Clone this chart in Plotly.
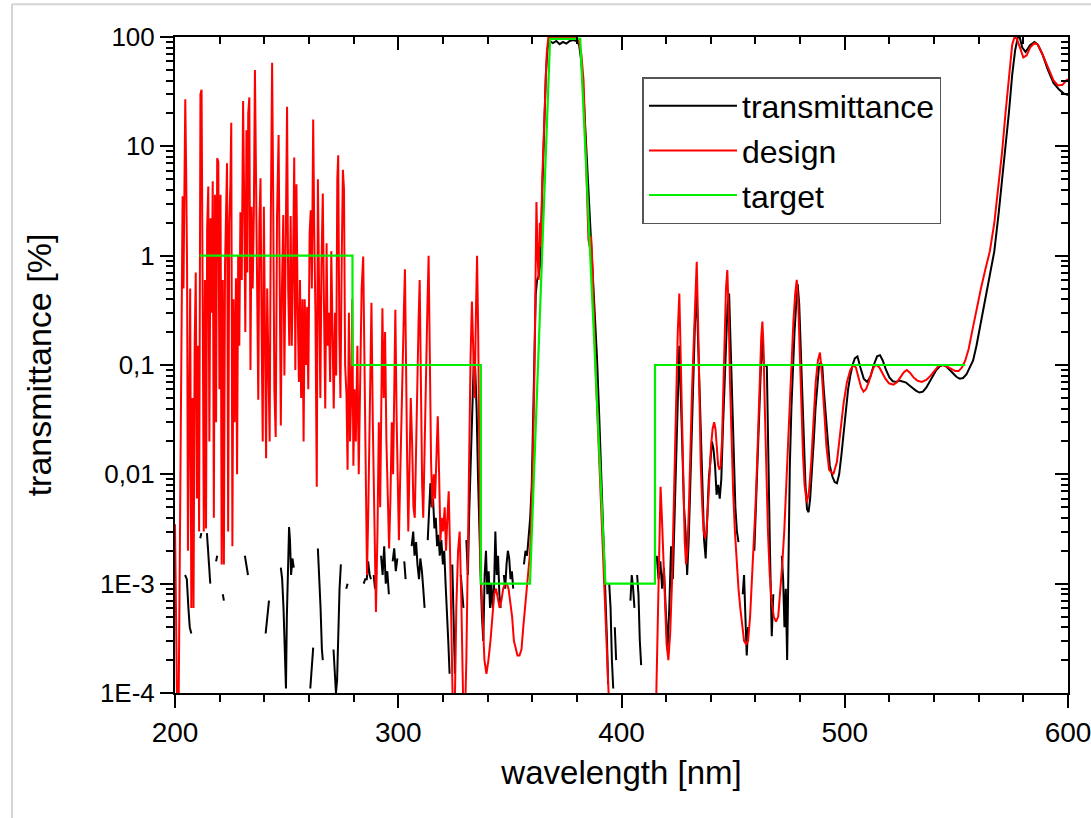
import plotly.graph_objects as go

# ---------------- data ----------------
# design curve, [wavelength nm, transmittance %]
design_200_290 = [
    [200.0, 0.0035], [200.5, 0.0002], [201.0, 0.00006], [201.6, 0.00006], [202.1, 0.0008], [202.6, 0.02],
    [203.0, 0.3], [203.4, 3.5], [203.8, 0.5], [204.2, 7], [204.6, 27], [205.0, 6], [205.4, 0.8],
    [205.8, 0.002], [206.3, 0.05], [206.8, 0.5], [207.3, 0.0006], [207.8, 0.05], [208.3, 0.0006],
    [208.8, 0.15], [209.3, 0.7], [209.8, 0.006], [210.3, 0.15], [210.8, 0.003], [211.4, 30], [211.9, 33],
    [212.4, 0.4], [212.9, 0.003], [213.4, 0.6], [213.9, 0.0032], [214.4, 1.8], [214.9, 4.3], [215.4, 0.02],
    [215.9, 2.2], [216.4, 0.3], [216.9, 4.8], [217.4, 0.004], [217.9, 3.6], [218.4, 0.03], [218.9, 7.8],
    [219.4, 7.2], [219.9, 0.06], [220.4, 3.6], [220.9, 0.0015], [221.4, 0.6], [221.9, 0.0015], [222.4, 0.8],
    [222.9, 4], [223.3, 7], [223.8, 0.003], [224.3, 2], [224.8, 4.5], [225.2, 16.4], [225.7, 0.0022],
    [226.2, 0.4], [226.7, 0.03], [227.3, 0.62], [227.8, 0.01], [228.3, 1.0], [228.8, 0.15], [229.3, 2.5],
    [229.9, 0.6], [230.5, 26], [231.0, 3], [231.5, 0.2], [232.0, 14], [232.4, 0.7], [232.8, 20], [233.3, 28],
    [233.8, 0.09], [234.3, 2.8], [234.8, 0.5], [235.3, 2.3], [235.8, 50], [236.3, 2.7], [236.8, 0.3],
    [237.3, 0.048], [237.8, 2], [238.3, 5.1], [238.8, 0.2], [239.3, 0.02], [239.8, 2.8], [240.3, 0.3],
    [240.8, 0.014], [241.3, 0.5], [241.8, 0.1], [242.4, 0.02], [242.9, 2], [243.5, 58], [244.0, 3],
    [244.5, 0.06], [245.1, 0.022], [245.7, 2.3], [246.4, 12.7], [246.9, 0.3], [247.4, 0.028], [247.9, 0.5],
    [248.5, 2.35], [249.0, 0.08], [249.6, 2.2], [250.2, 23], [250.7, 0.5], [251.2, 0.15], [251.8, 2.3],
    [252.3, 0.15], [252.8, 0.6], [253.4, 7.9], [253.9, 0.09], [254.4, 4.5], [254.9, 0.4], [255.5, 0.07],
    [256.0, 0.6], [256.5, 0.05], [257.1, 0.4], [257.6, 0.02], [258.1, 0.4], [258.7, 0.1], [259.2, 0.34],
    [259.7, 0.06], [260.3, 1.6], [260.8, 2.6], [261.3, 0.5], [261.9, 17.6], [262.4, 1.5], [262.9, 0.3],
    [263.5, 0.0077], [264.0, 5], [264.5, 0.6], [265.1, 0.05], [265.6, 0.8], [266.2, 3.7], [266.7, 0.4],
    [267.3, 0.04], [267.9, 1.3], [268.4, 0.15], [268.9, 0.3], [269.5, 0.07], [270.0, 1.1], [270.6, 0.15],
    [271.1, 0.04], [271.7, 0.3], [272.2, 0.08], [272.7, 5], [273.1, 8.3], [273.6, 0.2], [274.1, 0.05],
    [274.7, 1], [275.2, 6.1], [275.7, 4], [276.2, 0.1], [276.8, 0.054], [277.3, 0.011], [277.9, 0.3],
    [278.4, 0.02], [278.9, 0.05], [279.4, 0.4], [279.9, 0.012], [280.4, 0.06], [281.0, 0.02], [281.7, 0.15],
    [282.3, 0.01], [282.9, 0.08], [283.6, 0.5], [284.3, 0.98], [284.9, 0.1], [285.5, 0.004], [286.0, 0.0012],
    [286.6, 0.005], [287.3, 0.06], [288.0, 0.37], [288.6, 0.03], [289.3, 0.004], [290.0, 0.00055],
]
design_290_360 = [
    [290.7, 0.003], [291.3, 0.03], [291.9, 0.005], [292.4, 0.08], [292.9, 0.33], [293.5, 0.05], [294.1, 0.2],
    [294.7, 0.02], [295.3, 0.006], [295.9, 0.0021], [296.5, 0.006], [297.1, 0.03], [297.7, 0.01],
    [298.2, 0.06], [298.7, 0.32], [299.3, 0.03], [299.8, 0.01], [300.3, 0.0025], [300.9, 0.01], [301.5, 0.05],
    [302.0, 0.12], [302.5, 0.3], [303.0, 0.75], [303.5, 0.06], [304.0, 0.013], [304.5, 0.003], [305.0, 0.01],
    [305.6, 0.05], [306.2, 0.02], [306.8, 0.005], [307.4, 0.004], [308.0, 0.02], [308.5, 0.1], [309.1, 0.25],
    [309.6, 0.6], [310.1, 0.05], [310.7, 0.008], [311.2, 0.004], [311.8, 0.02], [312.4, 0.08], [313.0, 0.3],
    [313.6, 1.0], [314.1, 0.1], [314.7, 0.013], [315.3, 0.005], [315.9, 0.01], [316.5, 0.006], [317.1, 0.015],
    [317.7, 0.034], [318.3, 0.01], [318.9, 0.0025], [319.5, 0.004], [320.1, 0.003], [320.8, 0.005],
    [321.4, 0.002], [322.0, 0.004], [322.6, 0.007], [323.2, 0.002], [323.8, 0.0005], [324.4, 0.00008],
    [325.2, 0.00005], [326.0, 0.0006], [326.8, 0.002], [327.5, 0.003], [328.2, 0.0008], [329.0, 0.0001],
    [329.8, 0.00005], [330.5, 0.0002], [331.2, 0.002], [331.8, 0.02], [332.4, 0.12], [333.0, 0.38],
    [333.6, 0.1], [334.2, 0.05], [334.8, 0.3], [335.3, 1.0], [335.8, 0.2], [336.3, 0.015], [336.8, 0.0015],
    [337.8, 0.0005], [338.6, 0.0002], [339.5, 0.00015], [340.4, 0.0002], [341.3, 0.0003], [342.2, 0.0005],
    [343.0, 0.0008], [343.8, 0.0009], [344.6, 0.0007], [345.4, 0.0006], [346.2, 0.0007], [347.0, 0.0009],
    [347.8, 0.001], [348.6, 0.001], [349.4, 0.0009], [350.2, 0.0007], [351.0, 0.0005], [351.8, 0.0003],
    [352.6, 0.00025], [353.4, 0.00022], [354.3, 0.00022], [355.2, 0.00025], [356.0, 0.0004], [356.8, 0.0006],
    [357.6, 0.0009], [358.4, 0.0014], [359.1, 0.002], [359.7, 0.005],
]
design_360_420 = [
    [360.3, 0.013], [360.9, 0.06], [361.4, 0.4], [361.9, 3.1], [362.4, 1.0], [362.9, 0.6], [363.4, 2],
    [363.9, 1.2], [364.5, 5], [365.1, 10], [365.8, 30], [366.5, 70], [367.2, 98], [368.5, 99], [370.0, 98],
    [372.0, 99], [374.0, 98], [376.0, 99], [378.0, 99], [380.0, 98], [381.0, 90], [382.0, 70], [383.0, 40],
    [383.8, 12], [384.6, 3], [385.2, 1.4], [385.8, 1.2], [386.4, 1.5], [387.0, 0.8], [387.8, 0.2],
    [388.6, 0.07], [389.5, 0.025], [390.4, 0.008], [391.3, 0.003], [392.2, 0.0009], [393.1, 0.0003],
    [394.0, 0.00011], [395.0, 0.00004], [405.0, 0.00001], [415.0, 0.00003], [415.6, 0.0001],
    [416.2, 0.0005], [416.9, 0.003], [417.5, 0.0077], [418.1, 0.004], [418.8, 0.0015], [419.5, 0.0006],
]
design_420_505 = [
    [420.2, 0.00028], [421.0, 0.0002], [421.8, 0.00035], [422.6, 0.001], [423.3, 0.004], [424.0, 0.02],
    [424.6, 0.08], [425.2, 0.2], [425.9, 0.45], [426.5, 0.12], [427.1, 0.02], [427.7, 0.006], [428.3, 0.0025],
    [428.9, 0.0015], [429.5, 0.002], [430.2, 0.005], [430.9, 0.02], [431.6, 0.06], [432.3, 0.15], [433.0, 0.4],
    [433.7, 0.88], [434.3, 0.25], [434.9, 0.05], [435.5, 0.012], [436.2, 0.005], [436.8, 0.003],
    [437.4, 0.0026], [438.0, 0.003], [438.7, 0.005], [439.4, 0.01], [440.1, 0.018], [440.8, 0.026],
    [441.5, 0.03], [442.1, 0.026], [442.7, 0.017], [443.3, 0.012], [443.9, 0.011], [444.4, 0.012],
    [445.0, 0.02], [445.6, 0.06], [446.2, 0.2], [446.8, 0.5], [447.4, 0.74], [448.0, 0.3], [448.6, 0.07],
    [449.3, 0.02], [450.0, 0.007], [450.8, 0.003], [451.6, 0.0015], [452.4, 0.0009], [453.2, 0.0006],
    [454.0, 0.0004], [454.9, 0.0003], [455.8, 0.00028], [456.7, 0.0003], [457.6, 0.0005], [458.4, 0.001],
    [459.2, 0.002], [460.0, 0.005], [460.7, 0.012], [461.4, 0.035], [462.0, 0.09], [462.6, 0.18],
    [463.1, 0.25], [463.6, 0.15], [464.2, 0.04], [464.9, 0.01], [465.6, 0.003], [466.4, 0.0012],
    [467.2, 0.0007], [468.2, 0.0005], [469.2, 0.00045], [470.2, 0.0005], [471.1, 0.0008], [472.0, 0.0015],
    [472.9, 0.003], [473.8, 0.008], [474.6, 0.02], [475.4, 0.05], [476.2, 0.12], [477.0, 0.25],
    [477.8, 0.45], [478.5, 0.6], [479.2, 0.35], [479.9, 0.12], [480.6, 0.04], [481.3, 0.015], [482.0, 0.008],
    [483.0, 0.0055], [484.0, 0.007], [485.0, 0.013], [486.0, 0.03], [487.0, 0.07], [488.0, 0.11],
    [488.9, 0.13], [489.8, 0.08], [490.8, 0.035], [491.8, 0.018], [493.0, 0.011], [494.9, 0.01],
    [496.5, 0.013], [498.0, 0.025], [499.5, 0.045], [501.0, 0.07], [502.5, 0.09], [503.9, 0.1],
]
design_505_600 = [
    [505.0, 0.095], [506.3, 0.075], [507.4, 0.062], [508.4, 0.057], [509.5, 0.06], [510.8, 0.07],
    [512.0, 0.085], [513.2, 0.097], [514.3, 0.1], [515.5, 0.095], [516.8, 0.085], [518.2, 0.075],
    [519.8, 0.068], [521.8, 0.066], [523.5, 0.07], [525.0, 0.078], [526.5, 0.086], [527.8, 0.09],
    [529.2, 0.085], [530.8, 0.077], [532.5, 0.072], [534.5, 0.07], [536.5, 0.073], [538.5, 0.08],
    [540.5, 0.09], [542.0, 0.098], [543.5, 0.1], [545.0, 0.099], [546.5, 0.095], [548.0, 0.091],
    [549.5, 0.088], [551.0, 0.088], [552.5, 0.095], [554.0, 0.11], [555.5, 0.14], [557.0, 0.2],
    [559.0, 0.32], [561.0, 0.5], [563.0, 0.75], [565.0, 1.1], [567.0, 2], [569.0, 4.5], [570.5, 9],
    [572.0, 20], [573.5, 45], [575.0, 85], [576.0, 99], [577.0, 97], [578.5, 80], [580.0, 65], [581.5, 68],
    [583.0, 80], [585.0, 88], [586.5, 85], [588.5, 70], [591.0, 52], [593.5, 40], [595.5, 36],
    [597.5, 36.5], [599.5, 40.6], [600.0, 41],
]

# measured transmittance (None = no valid value, line broken)
trans_200_290 = [
    [204.5, 0.0012], [205.3, 0.0011], [206.0, 0.0006], [206.6, 0.0004], [207.3, 0.00035], [209.0, None],
    [211.3, 0.0026], [211.8, 0.0029], [213.0, None],
    [214.3, 0.0029], [214.8, 0.0019], [215.3, 0.0013], [215.8, 0.0010], [217.0, None],
    [218.4, 0.0016], [218.9, 0.0018], [220.0, None],
    [221.4, 0.0008], [221.9, 0.0007], [225.0, None],
    [231.3, 0.0018], [232.0, 0.0015], [232.7, 0.0012], [236.0, None],
    [240.6, 0.00035], [241.3, 0.0005], [242.1, 0.0007], [245.0, None],
    [247.4, 0.0014], [248.0, 0.0011], [248.6, 0.0006], [249.3, 0.0002], [249.7, 0.00011], [250.1, 0.0005],
    [250.6, 0.0018], [251.1, 0.0033], [251.5, 0.0025], [252.0, 0.0012], [252.6, 0.0017], [253.2, 0.0014],
    [256.0, None],
    [260.6, 0.00011], [261.3, 0.0002], [261.9, 0.00026], [263.0, None],
    [264.0, 0.0021], [264.6, 0.0012], [265.2, 0.0006], [265.8, 0.00025], [266.2, 0.0002], [268.0, None],
    [271.0, 0.00025], [271.6, 0.00015], [272.1, 0.0001], [272.6, 0.00013], [273.2, 0.0004], [273.7, 0.0009],
    [274.3, 0.0015], [275.5, None],
    [276.7, 0.0009], [277.3, 0.0010], [280.0, None],
    [284.5, 0.0010], [285.2, 0.0011], [285.9, 0.0011], [286.5, 0.0016], [287.2, 0.0012], [287.8, 0.0011],
    [288.4, None],
]
trans_290_360 = [
    [289.0, 0.0012], [289.6, 0.0009], [290.2, 0.0013], [291.2, None],
    [292.3, 0.0018], [293.0, 0.0012], [293.7, 0.0022], [294.4, 0.0010], [295.1, 0.0013], [295.8, 0.0008],
    [296.6, None],
    [297.5, 0.0016], [298.2, 0.0021], [298.9, 0.0013], [299.6, 0.0017], [301.0, None],
    [302.7, 0.0016], [303.3, 0.0011], [304.5, None],
    [306.0, 0.0022], [306.7, 0.0030], [307.3, 0.0018], [308.0, 0.0024], [308.6, 0.0015], [309.3, 0.0011],
    [309.9, 0.0017], [310.6, 0.0013], [311.2, 0.0009], [311.8, 0.0006], [312.5, None],
    [313.2, 0.0025], [313.8, 0.0045], [314.4, 0.0083], [315.0, 0.005], [315.6, 0.006], [316.2, 0.0032],
    [316.8, 0.004], [317.4, 0.0022], [318.0, 0.0028], [318.6, 0.0018], [319.3, 0.0025], [320.0, 0.0015],
    [320.6, 0.002], [321.2, 0.001], [321.8, 0.0006], [322.4, 0.0003], [323.0, 0.00015], [323.6, None],
    [324.2, 0.0015], [324.8, 0.0005], [325.4, 0.00015], [326.5, None],
    [328.0, 0.0012], [328.6, 0.0008], [329.2, 0.0006], [329.9, None],
    [330.5, 0.0025], [331.2, 0.0012], [331.8, 0.0045], [332.5, 0.012], [333.2, 0.04], [333.9, 0.12],
    [334.5, 0.09], [335.1, 0.04], [335.7, 0.01], [336.3, 0.0025], [336.9, 0.0012], [337.5, 0.0005],
    [338.1, 0.0003], [338.7, 0.0012], [339.3, 0.002], [339.9, 0.0008], [340.5, 0.0013], [341.1, 0.0006],
    [341.7, 0.001], [342.3, 0.0006], [342.9, 0.0009], [343.5, 0.003], [344.1, 0.0012], [344.7, 0.0018],
    [345.3, 0.0008], [345.9, 0.0006], [346.6, None],
    [347.3, 0.0012], [347.9, 0.0009], [348.5, 0.0015], [349.1, 0.002], [349.7, 0.0017], [350.3, 0.0011],
    [350.9, 0.0013], [351.5, 0.0009], [353.0, None],
]
trans_355_415 = [
    [356.3, 0.0015], [357.0, 0.002], [357.7, 0.0018], [358.4, 0.0025], [359.1, 0.004], [359.8, 0.008],
    [360.4, 0.04], [361.0, 0.2], [361.6, 0.45], [362.2, 0.6], [362.9, 0.65], [363.5, 0.8], [364.1, 2],
    [364.7, 5], [365.4, 18], [366.1, 45], [366.9, 80], [367.8, 92], [369.3, 88], [370.8, 92], [372.3, 86],
    [373.8, 90], [375.3, 87], [376.8, 92], [378.3, 94], [379.8, 92], [381.0, 85], [382.0, 60], [383.0, 30],
    [384.0, 12], [385.0, 6], [386.0, 2.5], [387.0, 1.0], [388.0, 0.4], [389.0, 0.12], [390.0, 0.035],
    [391.0, 0.01], [392.0, 0.003], [392.8, 0.0009], [393.5, 0.0003], [394.0, 0.00012], [394.2, None],
    [394.5, 0.001], [395.1, 0.0006], [395.7, 0.0002], [396.3, 0.00011], [396.6, None],
    [397.0, 0.0004], [397.6, 0.0002], [400.0, None],
    [404.0, 0.0007], [404.6, 0.0012], [405.2, 0.0009], [405.8, 0.0006], [406.4, None],
    [407.0, 0.0012], [407.6, 0.0008], [408.2, 0.0003], [408.8, 0.00018], [412.0, None],
]
trans_415_505 = [
    [415.8, 0.0018], [416.6, 0.0011], [417.4, 0.0016], [418.2, 0.0009], [419.0, 0.0014], [419.8, 0.0005],
    [420.6, 0.00025], [421.4, 0.0006], [422.2, 0.0022], [423.0, 0.0011], [423.8, 0.004], [424.5, 0.015],
    [425.2, 0.06], [425.9, 0.15], [426.6, 0.05], [427.3, 0.012], [428.0, 0.005], [428.7, 0.003],
    [429.4, 0.0012], [430.1, 0.0025], [430.8, 0.008], [431.5, 0.03], [432.2, 0.09], [432.9, 0.24],
    [433.6, 0.5], [434.2, 0.2], [434.9, 0.06], [435.6, 0.015], [436.3, 0.005], [437.0, 0.0025],
    [437.7, 0.0017], [438.4, 0.004], [439.1, 0.009], [439.8, 0.013], [440.5, 0.02], [441.2, 0.017],
    [441.9, 0.012], [442.6, 0.0065], [443.3, 0.008], [444.0, 0.006], [444.7, 0.009], [445.4, 0.025],
    [446.1, 0.07], [446.8, 0.2], [447.5, 0.35], [448.2, 0.45], [448.9, 0.14], [449.6, 0.04], [450.3, 0.012],
    [451.0, 0.005], [451.7, 0.003], [452.4, 0.0024], [453.5, None],
    [454.3, 0.0008], [454.9, 0.0012], [455.5, 0.0005], [456.1, 0.00022], [456.7, 0.0004], [458.0, None],
    [459.5, 0.002], [460.2, 0.005], [460.9, 0.015], [461.6, 0.04], [462.3, 0.1], [463.0, 0.2], [463.7, 0.1],
    [464.4, 0.1], [465.1, 0.096], [465.8, 0.01], [466.5, 0.002], [467.3, 0.00033], [468.0, 0.0008],
    [470.0, None],
    [471.8, 0.0018], [472.4, 0.0011], [473.0, 0.0004], [473.6, 0.0009], [474.2, 0.0002], [474.8, 0.0015],
    [475.4, 0.012], [476.1, 0.04], [476.8, 0.1], [477.5, 0.2], [478.2, 0.35], [478.9, 0.55], [479.6, 0.36],
    [480.3, 0.15], [481.0, 0.05], [481.7, 0.018], [482.4, 0.008], [483.1, 0.0048], [483.8, 0.0045],
    [484.5, 0.006], [485.3, 0.01], [486.1, 0.02], [486.9, 0.04], [487.7, 0.07], [488.5, 0.1],
    [489.2, 0.105], [489.9, 0.1], [490.6, 0.06], [491.4, 0.035], [492.3, 0.02], [493.3, 0.012],
    [494.5, 0.0095], [495.5, 0.0085], [496.5, 0.0083], [497.5, 0.01], [498.5, 0.015], [499.5, 0.025],
    [500.5, 0.04], [501.5, 0.06], [502.5, 0.08], [503.5, 0.1], [504.5, 0.115],
]
trans_505_600 = [
    [505.7, 0.12], [507.0, 0.095], [508.5, 0.075], [510.0, 0.07], [511.5, 0.078], [513.0, 0.1],
    [514.5, 0.12], [515.8, 0.123], [517.0, 0.11], [518.5, 0.09], [520.0, 0.077], [521.5, 0.071],
    [523.0, 0.07], [524.5, 0.072], [526.0, 0.071], [527.5, 0.069], [529.0, 0.065], [530.5, 0.061],
    [532.0, 0.058], [533.5, 0.056], [535.0, 0.057], [536.5, 0.062], [538.0, 0.07], [539.5, 0.08],
    [541.0, 0.09], [542.5, 0.097], [544.0, 0.1], [545.5, 0.097], [547.0, 0.09], [548.5, 0.083],
    [550.0, 0.078], [551.5, 0.075], [553.0, 0.076], [554.5, 0.082], [556.0, 0.095], [557.5, 0.11],
    [559.0, 0.15], [561.0, 0.25], [563.0, 0.4], [565.0, 0.65], [567.0, 1.1], [569.0, 2.5], [570.5, 5],
    [572.0, 9], [573.5, 20], [575.0, 45], [576.3, 75], [577.5, 99], [578.3, 101], [579.5, 80], [581.0, 73],
    [583.0, 84], [585.0, 90], [586.5, 85], [588.5, 70], [591.0, 50], [593.5, 38], [596.0, 33],
    [598.0, 30.5], [600.0, 29.5],
]

# target (step profile)
target_nm = [211.0, 279.5, 279.5, 337.0, 337.0, 359.0, 368.0, 381.5, 392.8, 415.0, 415.0, 554.0]
target_T = [1, 1, 0.1, 0.1, 0.001, 0.001, 96, 96, 0.001, 0.001, 0.1, 0.1]

# axis ticks
x_major = [200, 300, 400, 500, 600]
y_tickvals = [1e-4, 1e-3, 1e-2, 1e-1, 1, 10, 100]
y_ticktext = ["1E-4", "1E-3", "0,01", "0,1", "1", "10", "100"]

# ---------------- build ----------------
design = design_200_290 + design_290_360 + design_360_420 + design_420_505 + design_505_600
trans = trans_200_290 + trans_290_360 + trans_355_415 + trans_415_505 + trans_505_600

FONT = "Liberation Sans, Arial, sans-serif"
XR = [199.999, 600.001]

fig = go.Figure()
fig.add_trace(go.Scatter(x=[p[0] for p in trans], y=[p[1] for p in trans], mode="lines",
                         name="transmittance", line=dict(color="black", width=2), connectgaps=False))
fig.add_trace(go.Scatter(x=[p[0] for p in design], y=[p[1] for p in design], mode="lines",
                         name="design", line=dict(color="#ff0000", width=2)))
fig.add_trace(go.Scatter(x=target_nm, y=target_T, mode="lines", name="target",
                         line=dict(color="#00ee00", width=2.2)))
# helper trace for mirrored (inward) ticks on top/right axes
fig.add_trace(go.Scatter(x=[400], y=[1], xaxis="x2", yaxis="y2", mode="markers",
                         marker=dict(opacity=0), showlegend=False, hoverinfo="skip"))

minor_y = [k * 10.0 ** e for e in range(-4, 2) for k in range(2, 10)]

fig.update_layout(
    width=1091, height=818,
    margin=dict(l=175, r=23, t=37, b=125, autoexpand=False),
    paper_bgcolor="white", plot_bgcolor="white",
    font=dict(family=FONT, color="black"),
    showlegend=True,
    legend=dict(x=0.5235, y=0.939, xanchor="left", yanchor="top",
                bordercolor="#555555", borderwidth=1.5, bgcolor="white",
                font=dict(size=32, family=FONT, color="black"),
                itemwidth=88, tracegroupgap=0),
    xaxis=dict(range=XR, tickmode="array", tickvals=x_major, ticklabeloverflow="allow", automargin=False,
               ticks="outside", ticklen=13, tickwidth=2, tickcolor="black",
               minor=dict(ticks="outside", ticklen=7, tickwidth=1.5, tickcolor="black", dtick=20, tick0=200),
               showline=True, linecolor="black", linewidth=2, showgrid=False, zeroline=False,
               tickfont=dict(size=28, family=FONT),
               title=dict(text="wavelength [nm]", font=dict(size=33, family=FONT), standoff=14)),
    yaxis=dict(type="log", range=[-4, 2], tickmode="array", tickvals=y_tickvals, ticktext=y_ticktext,
               ticks="outside", ticklen=13, tickwidth=2, tickcolor="black", ticklabeloverflow="allow",
               automargin=False,
               minor=dict(ticks="outside", ticklen=7, tickwidth=1.5, tickcolor="black",
                          tickmode="array", tickvals=minor_y),
               showline=True, linecolor="black", linewidth=2, showgrid=False, zeroline=False,
               tickfont=dict(size=26, family=FONT),
               title=dict(text="transmittance [%]", font=dict(size=34, family=FONT), standoff=38)),
    xaxis2=dict(overlaying="x", side="top", range=XR, tickmode="array", tickvals=x_major, automargin=False,
                ticks="inside", ticklen=13, tickwidth=2, tickcolor="black", showticklabels=False,
                minor=dict(ticks="inside", ticklen=7, tickwidth=1.5, tickcolor="black", dtick=20, tick0=200),
                showline=True, linecolor="black", linewidth=2, showgrid=False, zeroline=False),
    yaxis2=dict(overlaying="y", side="right", type="log", range=[-4, 2], tickmode="array", automargin=False,
                tickvals=y_tickvals, ticks="inside", ticklen=13, tickwidth=2, tickcolor="black",
                showticklabels=False,
                minor=dict(ticks="inside", ticklen=7, tickwidth=1.5, tickcolor="black",
                           tickmode="array", tickvals=minor_y),
                showline=True, linecolor="black", linewidth=2, showgrid=False, zeroline=False),
    shapes=[
        dict(type="line", xref="paper", yref="paper", x0=-0.1825, x1=-0.1825, y0=-0.2, y1=1.05,
             line=dict(color="#d4d4d4", width=2)),
        dict(type="line", xref="paper", yref="paper", x0=-0.1825, x1=1.05, y0=1.05, y1=1.05,
             line=dict(color="#d4d4d4", width=2)),
    ],
)

fig.write_html("out.html")
